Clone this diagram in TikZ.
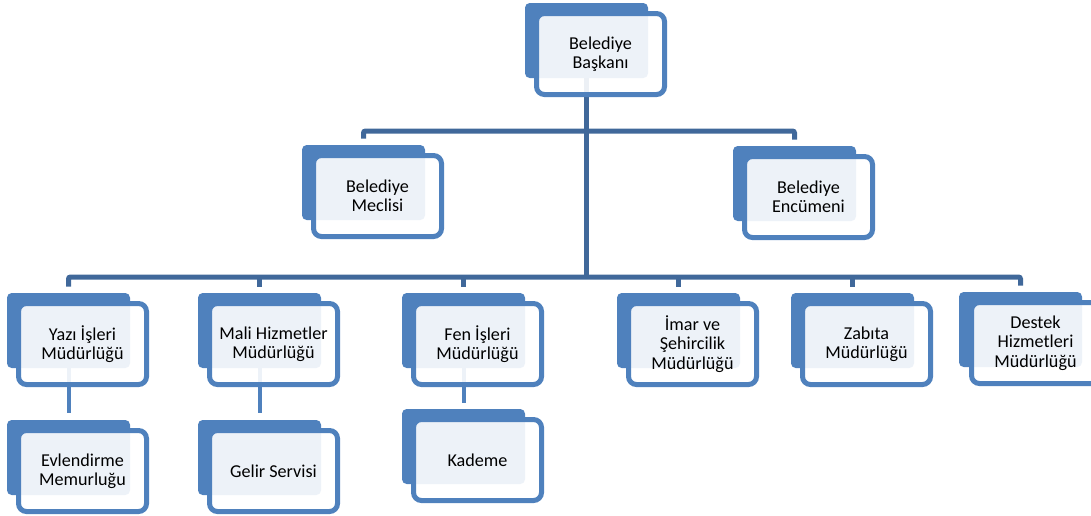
\documentclass[tikz,border=0pt]{standalone}
\usepackage{fontspec}
\setmainfont{Carlito}
\usetikzlibrary{positioning,calc}
\definecolor{boxblue}{RGB}{79,129,189}
\definecolor{linkblue}{RGB}{64,104,154}
\pgfdeclarelayer{bg}
\pgfsetlayers{bg,main}
\tikzset{>=latex}
\tikzstyle{back}=[rectangle,fill=boxblue,rounded corners=3.5pt,
  minimum width=92.25pt,minimum height=56.25pt,inner sep=0pt]
\tikzstyle{front}=[rectangle,draw=boxblue,line width=3.75pt,fill=white,
  fill opacity=0.9,text opacity=1,rounded corners=6pt,minimum width=96pt,
  minimum height=60.75pt,inner sep=0pt,align=center,
  font=\fontsize{13.6}{14.6}\selectfont]
\tikzstyle{tree}=[draw=linkblue,line width=3.75pt,rounded corners=1.5pt]
\tikzstyle{sub}=[draw=boxblue,line width=3pt]

\begin{document}
\begin{tikzpicture}[x=0.75pt,y=-0.75pt]
  \clip (0,0) rectangle (1091,515);

  % top
  \path (586.5,40.5) node (bBaskan) [back] {};
  \path (600.5,54) node (baskan) [front] {Belediye\\Başkanı};

  % second row
  \path (363.5,182.5) node (bMeclis) [back] {};
  \path (377.5,196) node (meclis) [front] {Belediye\\Meclisi};

  \path (794.5,183.5) node (bEncumen) [back] {};
  \path (808.5,197) node (encumen) [front] {Belediye\\Encümeni};

  % directorates
  \path (68.5,330.5) node (bYazi) [back] {};
  \path (82.5,344) node (yazi) [front] {Yazı İşleri\\Müdürlüğü};

  \path (259.5,330.5) node (bMali) [back] {};
  \path (273.5,344) node (mali) [front] {Mali Hizmetler\\Müdürlüğü};

  \path (463.5,330.5) node (bFen) [back] {};
  \path (477.5,344) node (fen) [front] {Fen İşleri\\Müdürlüğü};

  \path (678.5,330.5) node (bImar) [back] {};
  \path (692.5,344) node (imar) [front] {İmar ve\\Şehircilik\\Müdürlüğü};

  \path (852.5,330.5) node (bZabita) [back] {};
  \path (866.5,344) node (zabita) [front] {Zabıta\\Müdürlüğü};

  \path (1020.5,329.5) node (bDestek) [back] {};
  \path (1035.5,343) node (destek) [front] {Destek\\Hizmetleri\\Müdürlüğü};

  % sub units
  \path (68.5,457.5) node (bEvlendirme) [back] {};
  \path (82.5,471) node (evlendirme) [front] {Evlendirme\\Memurluğu};

  \path (259.5,457.5) node (bGelir) [back] {};
  \path (273.5,471) node (gelir) [front] {Gelir Servisi};

  \path (463.5,446.5) node (bKademe) [back] {};
  \path (477.5,460) node (kademe) [front] {Kademe};

  \coordinate (bus1) at (0,131);
  \coordinate (bus2) at (0,277);

  \begin{pgfonlayer}{bg}
    \draw[tree] (bBaskan) -- (bBaskan |- bus2);
    \draw[tree] ($(bMeclis.north)+(0,-6)$) |- (bus1 -| bEncumen)
      -- ($(bEncumen.north)+(0,-6)$);
    \draw[tree] ($(bYazi.north)+(0,-6)$) |- (bus2 -| bDestek)
      -- ($(bDestek.north)+(0,-6)$);
    \foreach \n in {bMali,bFen,bImar,bZabita}
      \draw[tree] (\n |- bus2) -- ($(\n.north)+(0,-6)$);

    \draw[sub] (bYazi) -- ($(bEvlendirme.north)+(0,-7)$);
    \draw[sub] (bMali) -- ($(bGelir.north)+(0,-7)$);
    \draw[sub] (bFen) -- ($(bKademe.north)+(0,-6)$);
  \end{pgfonlayer}
\end{tikzpicture}
\end{document}
